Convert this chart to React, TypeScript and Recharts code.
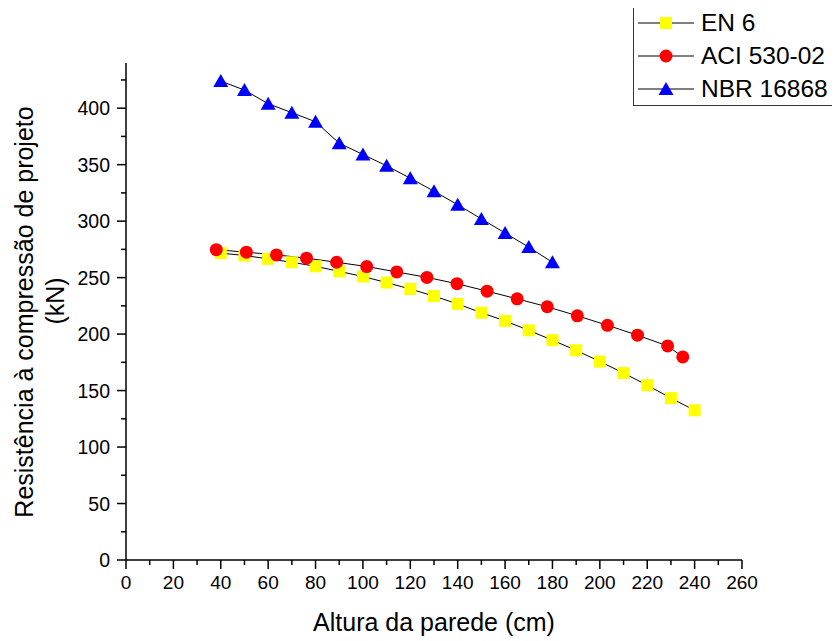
import React from 'react';
import { LineChart, Line, XAxis, YAxis, Legend } from 'recharts';

const seriesNames = ['EN 6', 'ACI 530-02', 'NBR 16868'];

const enX = [40, 50, 60, 70, 80, 90, 100, 110, 120, 130, 140, 150, 160, 170, 180, 190, 200, 210, 220, 230, 240];
const enY = [271.7, 269.6, 266.6, 263.6, 260, 255.5, 251, 245.6, 239.9, 233.6, 226.7, 218.9, 211.7, 203.3, 194.6, 185.6, 175.7, 165.5, 154.7, 143.3, 132.5];

const aciX = [38.1, 50.8, 63.5, 76.2, 88.9, 101.6, 114.3, 127, 139.7, 152.4, 165.1, 177.8, 190.5, 203.2, 215.9, 228.6, 235];
const aciY = [274.7, 272.5, 270.1, 267.2, 263.6, 259.8, 255, 250.2, 244.6, 238, 231.2, 224.2, 216.2, 207.8, 199, 189.5, 179.8];

const nbrX = [40, 50, 60, 70, 80, 90, 100, 110, 120, 130, 140, 150, 160, 170, 180];
const nbrY = [424, 416, 404, 396, 388, 369, 359, 349, 338, 326.5, 314.5, 302, 289.5, 277, 263.5];

const xTicks = [0, 10, 20, 30, 40, 50, 60, 70, 80, 90, 100, 110, 120, 130, 140, 150, 160, 170, 180, 190, 200, 210, 220, 230, 240, 250, 260];
const yTicks = [0, 25, 50, 75, 100, 125, 150, 175, 200, 225, 250, 275, 300, 325, 350, 375, 400, 425];

const xTitle = 'Altura da parede (cm)';
const yTitle1 = 'Resistência à compressão de projeto';
const yTitle2 = '(kN)';

const toData = (xs: number[], ys: number[]) => xs.map((x, i) => ({ x, y: ys[i] }));
const enData = toData(enX, enY);
const aciData = toData(aciX, aciY);
const nbrData = toData(nbrX, nbrY);

const FONT = "Arial, 'Liberation Sans', sans-serif";
const colors = ['#FFFF00', '#FF0000', '#0000FF'];
const shapes = ['square', 'circle', 'triangle'];

const Marker = ({ cx, cy, shape, color }: any) => {
  if (cx == null || cy == null) return null;
  if (shape === 'square') return <rect x={cx - 6} y={cy - 6} width={12} height={12} fill={color} />;
  if (shape === 'circle') return <circle cx={cx} cy={cy} r={6.5} fill={color} />;
  return <polygon points={`${cx},${cy - 7} ${cx - 7.5},${cy + 6} ${cx + 7.5},${cy + 6}`} fill={color} />;
};

const makeDot = (i: number) => (props: any) => (
  <Marker key={`d-${i}-${props.index}`} cx={props.cx} cy={props.cy} shape={shapes[i]} color={colors[i]} />
);

const XTick = (props: any) => {
  const { x, y, payload } = props;
  const v = payload.value;
  const major = v % 20 === 0;
  return (
    <g>
      <line x1={x} y1={y} x2={x} y2={y + (major ? 9 : 5)} stroke="#000" strokeWidth={1.5} />
      {major && (
        <text x={x} y={y + 29} textAnchor="middle" fontSize={19} fontFamily={FONT} fill="#000">
          {v}
        </text>
      )}
    </g>
  );
};

const YTick = (props: any) => {
  const { x, y, payload } = props;
  const v = payload.value;
  const major = v % 50 === 0;
  return (
    <g>
      <line x1={x} y1={y} x2={x - (major ? 9 : 5)} y2={y} stroke="#000" strokeWidth={1.5} />
      {major && (
        <text x={x - 16} y={y + 7} textAnchor="end" fontSize={19.5} fontFamily={FONT} fill="#000">
          {v}
        </text>
      )}
    </g>
  );
};

const XTitle = (props: any) => {
  const vb = props.viewBox || {};
  return (
    <text x={vb.x + vb.width / 2} y={vb.y + 71} textAnchor="middle" fontSize={25} fontFamily={FONT} fill="#000">
      {xTitle}
    </text>
  );
};

const YTitle = (props: any) => {
  const vb = props.viewBox || {};
  const cy1 = vb.y + vb.height / 2 + 0.5;
  const cy2 = cy1 - 11;
  return (
    <g>
      <text x={25} y={cy1} transform={`rotate(-90, 25, ${cy1})`} textAnchor="middle" fontSize={25} fontFamily={FONT} fill="#000">
        {yTitle1}
      </text>
      <text x={56} y={cy2} transform={`rotate(-90, 56, ${cy2})`} textAnchor="middle" fontSize={25} fontFamily={FONT} fill="#000">
        {yTitle2}
      </text>
    </g>
  );
};

const LegendBox = () => (
  <div
    style={{
      width: 204,
      height: 101,
      border: '1px solid #333',
      boxSizing: 'border-box',
      background: '#fff',
      fontFamily: FONT,
      fontSize: 24.5,
      paddingTop: 0,
    }}
  >
    {seriesNames.map((name, i) => (
      <div key={name} style={{ display: 'flex', alignItems: 'center', height: 33 }}>
        <svg width={60} height={20} style={{ marginLeft: 4 }}>
          <line x1={0} y1={10} x2={56} y2={10} stroke="#000" strokeWidth={1} />
          <Marker cx={28} cy={10} shape={shapes[i]} color={colors[i]} />
        </svg>
        <span style={{ marginLeft: 3, lineHeight: '33px', whiteSpace: 'nowrap' }}>{name}</span>
      </div>
    ))}
  </div>
);

export default function App() {
  return (
    <div style={{ width: 832, height: 633 }}>
      <LineChart width={832} height={633} margin={{ top: 55, right: 98, left: 0, bottom: 0 }}>
        <XAxis
          dataKey="x"
          type="number"
          domain={[0, 260]}
          ticks={xTicks}
          interval={0}
          tickSize={0}
          tickMargin={0}
          tickLine={false}
          tick={<XTick />}
          height={81}
          axisLine={{ stroke: '#000', strokeWidth: 1.5 }}
          label={{ content: <XTitle /> }}
          allowDuplicatedCategory={false}
        />
        <YAxis
          type="number"
          domain={[0, 440]}
          ticks={yTicks}
          interval={0}
          tickSize={0}
          tickMargin={0}
          tickLine={false}
          tick={<YTick />}
          width={118}
          axisLine={{ stroke: '#000', strokeWidth: 1.5 }}
          label={{ content: <YTitle /> }}
        />
        <Legend
          layout="vertical"
          align="center"
          verticalAlign="middle"
          content={<LegendBox />}
          wrapperStyle={{ left: 625, top: -3, width: 204, height: 101 }}
        />
        <Line data={enData} dataKey="y" name={seriesNames[0]} stroke="#000" strokeWidth={1} dot={makeDot(0)} activeDot={false} isAnimationActive={false} />
        <Line data={aciData} dataKey="y" name={seriesNames[1]} stroke="#000" strokeWidth={1} dot={makeDot(1)} activeDot={false} isAnimationActive={false} />
        <Line data={nbrData} dataKey="y" name={seriesNames[2]} stroke="#000" strokeWidth={1} dot={makeDot(2)} activeDot={false} isAnimationActive={false} />
      </LineChart>
    </div>
  );
}
